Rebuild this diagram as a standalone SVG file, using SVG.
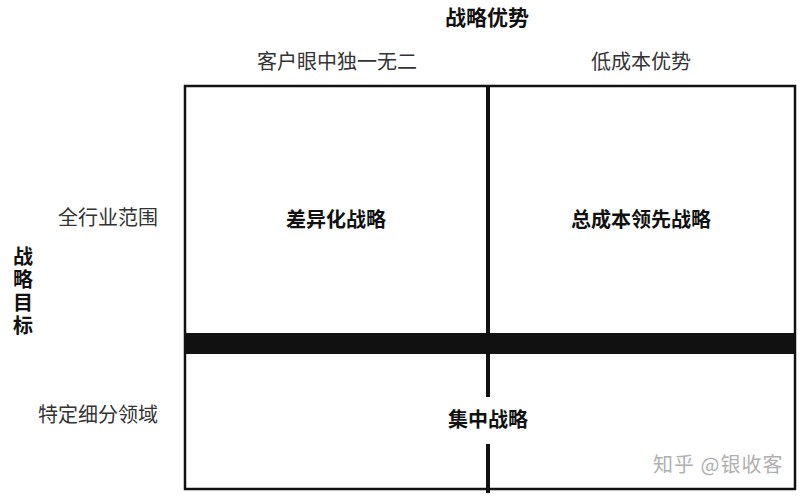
<svg xmlns="http://www.w3.org/2000/svg" width="808" height="500" viewBox="0 0 808 500">
<style>
text{font-family:"Noto Sans CJK SC","Noto Sans",sans-serif;}
.t{font-size:20px;fill:#333;}
.b{font-size:20px;font-weight:bold;fill:#111;}
.h{font-size:21px;font-weight:bold;fill:#111;}
.v{font-size:20px;font-weight:bold;fill:#111;writing-mode:vertical-rl;letter-spacing:3px;}
.w{font-size:20px;fill:#b0b0b0;letter-spacing:1px;}
</style>
<rect width="808" height="500" fill="#fff"/>
<g id="axes">
<text class="h" x="487" y="25" text-anchor="middle">战略优势</text>
<text class="t" x="337" y="69" text-anchor="middle">客户眼中独一无二</text>
<text class="t" x="641" y="69" text-anchor="middle">低成本优势</text>
<text class="t" x="158" y="225" text-anchor="end">全行业范围</text>
<text class="t" x="158" y="422" text-anchor="end">特定细分领域</text>
<text id="yaxis" class="v" x="23" y="246">战略目标</text>
</g>
<g id="grid">
<rect x="185" y="86" width="610" height="403" fill="none" stroke="#111" stroke-width="2.5"/>
<rect x="185" y="333" width="610" height="21" fill="#111"/>
<line x1="488" y1="85" x2="488" y2="397" stroke="#111" stroke-width="4"/>
<line x1="488" y1="444" x2="488" y2="493" stroke="#111" stroke-width="4"/>
</g>
<g id="n1"><text class="b" x="336" y="227" text-anchor="middle">差异化战略</text></g>
<g id="n2"><text class="b" x="641" y="227" text-anchor="middle">总成本领先战略</text></g>
<g id="n3"><text class="b" x="488" y="427" text-anchor="middle">集中战略</text></g>
<text class="w" x="653" y="472">知乎 @银收客</text>
</svg>
